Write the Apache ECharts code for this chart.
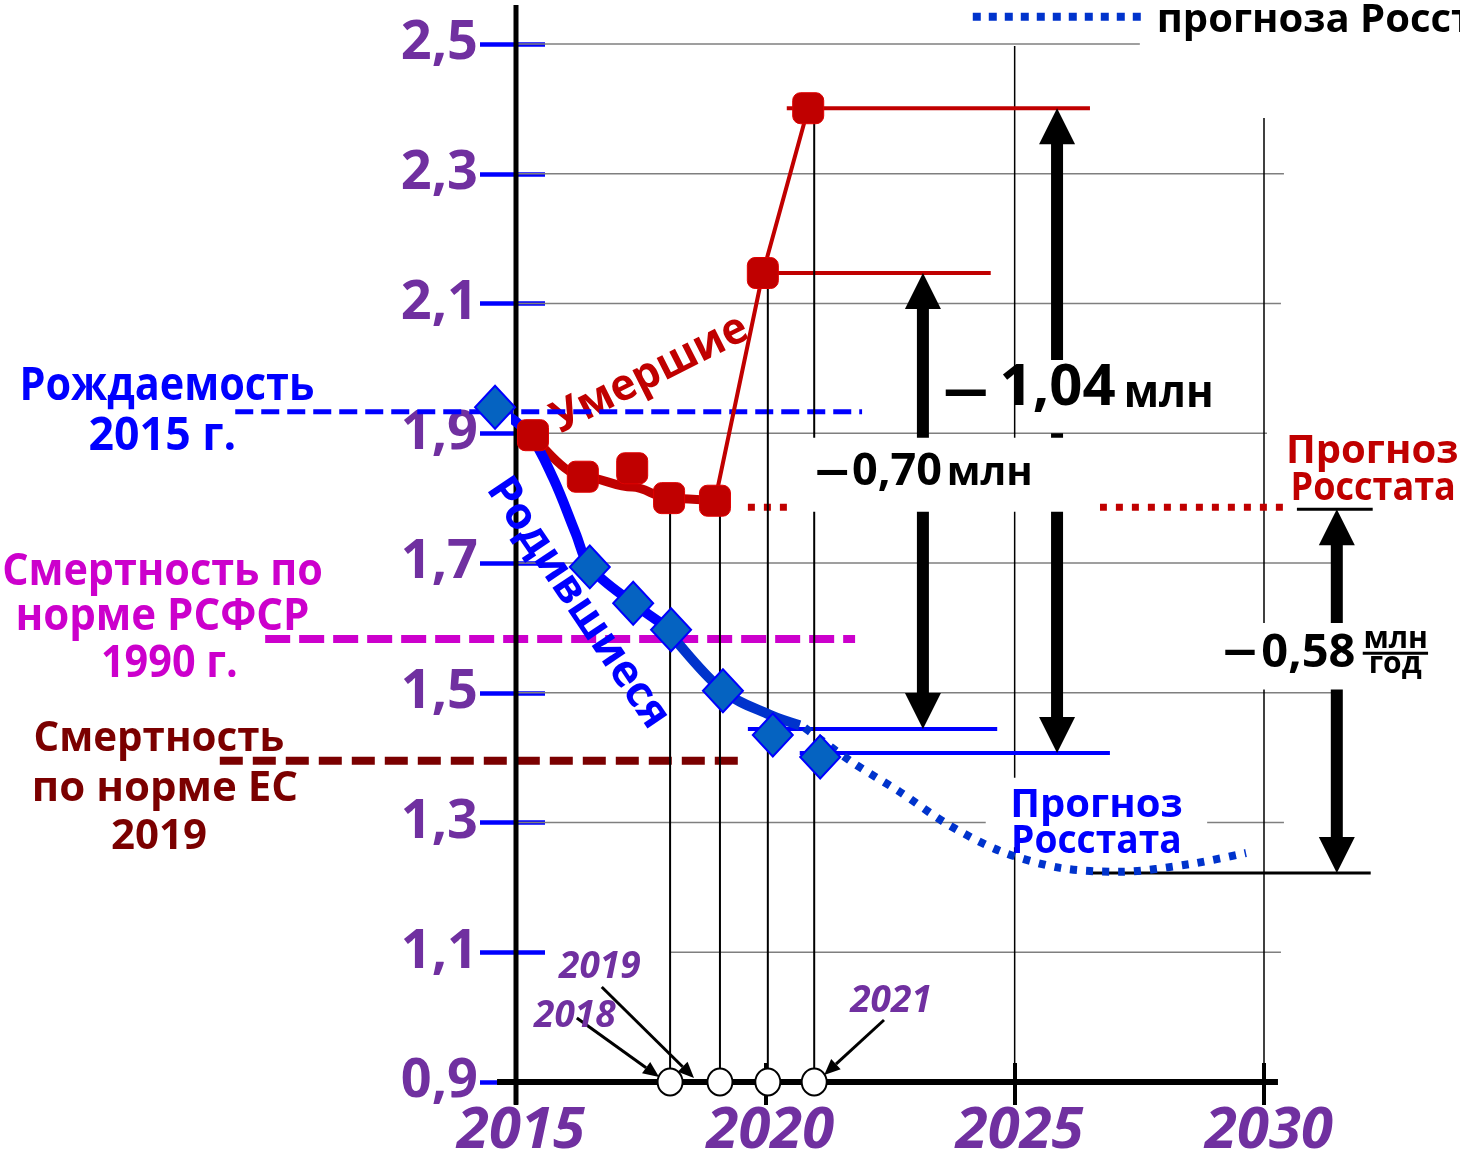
<!DOCTYPE html>
<html><head><meta charset="utf-8">
<script src="https://cdn.jsdelivr.net/npm/echarts@6/dist/echarts.min.js"></script>
<style>html,body{margin:0;padding:0;background:#fff}#c{width:1460px;height:1149px}</style>
</head><body><div id="c"></div><script>
// ---------- DATA (millions of people) ----------
const xTickLabels = ['2015', '2020', '2025', '2030'];
const yTickValues = [0.9, 1.1, 1.3, 1.5, 1.7, 1.9, 2.1, 2.3, 2.5];
const yTickLabels = ['0,9', '1,1', '1,3', '1,5', '1,7', '1,9', '2,1', '2,3', '2,5'];

// births markers
const birthYears = [2014.58, 2016.48, 2017.35, 2018.11, 2019.15, 2020.15, 2021.10];
const births = [1.940, 1.694, 1.638, 1.597, 1.503, 1.435, 1.401];
// births curve (actual), two pieces
const birthCurveYears = [2014.58, 2015.25, 2015.75, 2016.2, 2016.48, 2017.35, 2018.11];
const birthCurveValues = [1.940, 1.900, 1.830, 1.745, 1.694, 1.638, 1.597];
const birthCurve2Years = [2018.11, 2019.15, 2020.09, 2020.69];
const birthCurve2Values = [1.590, 1.503, 1.466, 1.450];
// Rosstat births forecast
const forecastBirthYears = [2020.79, 2021.76, 2022.70, 2023.64, 2024.71, 2025.91, 2027.11, 2028.52, 2029.64];
const forecastBirthValues = [1.446, 1.392, 1.347, 1.298, 1.256, 1.230, 1.224, 1.236, 1.253];

// deaths markers
const deathYears = [2015.34, 2016.34, 2017.33, 2018.07, 2018.99, 2019.95, 2020.86];
const deaths = [1.897, 1.833, 1.846, 1.800, 1.796, 2.147, 2.401];
const deathCurveYears = [2015.34, 2016.34, 2017.33, 2018.07, 2018.99];
const deathCurveValues = [1.897, 1.833, 1.817, 1.800, 1.796];
const deathJumpYears = [2018.99, 2019.95, 2020.86];
const deathJumpValues = [1.796, 2.147, 2.401];

// reference levels
const birthLevel2015 = 1.933;
const deathNormRSFSR1990 = 1.583;
const deathNormEU2019 = 1.395;
const deathForecastLevel = 1.786;
const deathLevels2020_2021 = [2.147, 2.401];
const birthLevels2020_2021 = [1.444, 1.407];
const forecastGapLevels = [1.783, 1.222];

// marked years (vertical lines to the axis and circles)
const markedYears = [2018.09, 2019.09, 2020.05, 2020.98];
const markedTops = [1.800, 1.796, 2.147, 2.401];

// differences (arrows): x, top, bottom
const diffX = [2023.16, 2025.85, 2031.46];
const diffTop = [2.147, 2.401, 1.783];
const diffBottom = [1.444, 1.407, 1.222];

// ---------- STYLE ----------
const FONT = '"Open Sans", "Noto Sans", sans-serif';
const PURPLE = '#7030a0', BLUE = '#0000ff', BLUE2 = '#0033cc', RED = '#c00000',
      MAGENTA = '#cc00cc', MAROON = '#7b0000';

const zip = (a, b) => a.map((v, i) => [v, b[i]]);

function segSeries(segs, style, z) {
  return {
    type: 'custom', coordinateSystem: 'cartesian2d', silent: true, animation: false, z: z,
    data: segs, encode: { x: [0, 2], y: [1, 3] },
    renderItem: function (p, api) {
      const a = api.coord([api.value(0), api.value(1)]);
      const b = api.coord([api.value(2), api.value(3)]);
      return { type: 'line', shape: { x1: a[0], y1: a[1], x2: b[0], y2: b[1] },
        style: Object.assign({ fill: null, lineCap: 'butt' }, style) };
    }
  };
}

function textSeries(items, z) {
  return {
    type: 'custom', coordinateSystem: 'cartesian2d', silent: true, animation: false, z: z,
    data: items.map(d => [d.x, d.y]), encode: { x: 0, y: 1 },
    renderItem: function (p, api) {
      const d = items[p.dataIndex];
      const c = api.coord([api.value(0), api.value(1)]);
      return {
        type: 'text', x: c[0], y: c[1], rotation: (d.rot || 0) * Math.PI / 180, scaleX: d.sx || 1,
        style: {
          text: d.text, fill: d.color, fontSize: d.size, fontWeight: 'bold', fontFamily: FONT,
          fontStyle: d.italic ? 'italic' : 'normal',
          align: d.align || 'center', verticalAlign: 'middle'
        }
      };
    }
  };
}

// horizontal grid (start year, value, end year, value)
const gridSegs = [
  [2015, 2.5, 2027.51, 2.5], [2015, 2.3, 2030.40, 2.3], [2015, 2.1, 2030.34, 2.1],
  [2015, 1.9, 2030.06, 1.9], [2015, 1.7, 2031.36, 1.7], [2015, 1.5, 2031.36, 1.5],
  [2015, 1.3, 2030.40, 1.3], [2018.09, 1.1, 2030.34, 1.1]
];

const underTexts = [
  { text: 'Умершие', x: 2017.69, y: 1.991, size: 44, color: RED, rot: 26.8, sx: 0.97 }
];

const textLayout = [
  { text: 'Рождаемость', x: 2008.0, y: 1.971, size: 46, color: BLUE, sx: 0.9 },
  { text: '2015 г.', x: 2007.91, y: 1.894, size: 46, color: BLUE, sx: 0.97 },
  { text: 'Смертность по', x: 2007.91, y: 1.685, size: 44, color: MAGENTA, sx: 0.94 },
  { text: 'норме РСФСР', x: 2007.91, y: 1.616, size: 44, color: MAGENTA, sx: 0.955 },
  { text: '1990 г.', x: 2008.05, y: 1.544, size: 44, color: MAGENTA, sx: 0.94 },
  { text: 'Смертность', x: 2007.84, y: 1.428, size: 42, color: MAROON, sx: 0.96 },
  { text: 'по норме ЕС', x: 2007.96, y: 1.351, size: 42, color: MAROON },
  { text: '2019', x: 2007.84, y: 1.277, size: 42, color: MAROON },
  { text: 'Родившиеся', x: 2016.24, y: 1.638, size: 44, color: BLUE, rot: -56 },
  { text: 'Прогноз', x: 2032.17, y: 1.872, size: 40, color: RED },
  { text: 'Росстата', x: 2032.19, y: 1.815, size: 40, color: RED, sx: 0.9 },
  { text: 'Прогноз', x: 2026.64, y: 1.326, size: 40, color: BLUE },
  { text: 'Росстата', x: 2026.64, y: 1.271, size: 40, color: BLUE, sx: 0.93 },
  { text: '—', x: 2024.02, y: 1.965, size: 58, color: '#000', sx: 0.75 },
  { text: '1,04', x: 2025.86, y: 1.969, size: 58, color: '#000' },
  { text: 'млн', x: 2028.09, y: 1.960, size: 44, color: '#000', sx: 0.95 },
  { text: '—', x: 2021.34, y: 1.840, size: 45, color: '#000', sx: 0.72 },
  { text: '0,70', x: 2022.64, y: 1.840, size: 45, color: '#000' },
  { text: 'млн', x: 2024.50, y: 1.838, size: 40, color: '#000' },
  { text: '—', x: 2029.52, y: 1.563, size: 47, color: '#000', sx: 0.68 },
  { text: '0,58', x: 2030.89, y: 1.560, size: 47, color: '#000' },
  { text: 'млн', x: 2032.64, y: 1.582, size: 30, color: '#000' },
  { text: 'год', x: 2032.63, y: 1.544, size: 30, color: '#000' },
  { text: '2019', x: 2016.68, y: 1.077, size: 37, color: PURPLE, italic: true },
  { text: '2018', x: 2016.18, y: 1.001, size: 37, color: PURPLE, italic: true },
  { text: '2021', x: 2022.52, y: 1.024, size: 37, color: PURPLE, italic: true },
  { text: 'прогноза Росстата', x: 2027.85, y: 2.536, size: 40, color: '#000', align: 'left' }
];

const whiteBoxes = [
  [2020.49, 1.893, 2026.71, 1.779],
  [2029.02, 1.6075, 2033.43, 1.505],
  [2024.42, 1.369, 2028.86, 1.262]
];

const pointerArrows = [
  [2016.22, 0.9987, 2017.87, 0.9077],
  [2016.72, 1.0464, 2018.57, 0.9062],
  [2022.38, 0.9956, 2021.18, 0.9108]
];

const series = [
  // grid
  segSeries(gridSegs, { stroke: '#7f7f7f', lineWidth: 1.5 }, 1),
  segSeries([[2025, 2.497, 2025, 0.9], [2030, 2.386, 2030, 0.9]], { stroke: '#000', lineWidth: 1.5 }, 1),
  textSeries(underTexts, 1),
  // reference levels
  segSeries([[2009.37, birthLevel2015, 2021.94, birthLevel2015]], { stroke: BLUE, lineWidth: 5, lineDash: [18, 8] }, 2),
  segSeries([[2009.97, deathNormRSFSR1990, 2021.80, deathNormRSFSR1990]], { stroke: MAGENTA, lineWidth: 8, lineDash: [25, 9] }, 2),
  segSeries([[2009.06, deathNormEU2019, 2019.53, deathNormEU2019]], { stroke: MAROON, lineWidth: 8, lineDash: [23, 10] }, 2),
  segSeries([[2019.65, deathForecastLevel, 2030.42, deathForecastLevel]], { stroke: RED, lineWidth: 7, lineDash: [7, 9] }, 2),
  segSeries([[2020.43, deathLevels2020_2021[1], 2026.51, deathLevels2020_2021[1]],
             [2019.95, deathLevels2020_2021[0], 2024.52, deathLevels2020_2021[0]]], { stroke: RED, lineWidth: 4 }, 2),
  segSeries([[2019.65, birthLevels2020_2021[0], 2024.65, birthLevels2020_2021[0]],
             [2020.69, birthLevels2020_2021[1], 2026.91, birthLevels2020_2021[1]]], { stroke: BLUE, lineWidth: 4 }, 2),
  segSeries([[2030.66, forecastGapLevels[0], 2032.18, forecastGapLevels[0]],
             [2026.53, forecastGapLevels[1], 2032.14, forecastGapLevels[1]]], { stroke: '#000', lineWidth: 3 }, 2),
  segSeries(markedYears.map((x, i) => [x, markedTops[i], x, 0.9]), { stroke: '#000', lineWidth: 2 }, 2),
  // legend dotted line at top
  segSeries([[2024.16, 2.542, 2027.55, 2.542]], { stroke: BLUE2, lineWidth: 8, lineDash: [8, 8] }, 2),
  // difference arrows
  {
    type: 'custom', coordinateSystem: 'cartesian2d', silent: true, animation: false, z: 2,
    data: diffX.map((x, i) => [x, diffTop[i], diffBottom[i], i === 1 ? 2.013 : 0, i === 1 ? 1.900 : 0]),
    encode: { x: 0, y: [1, 2] },
    renderItem: function (p, api) {
      const x = api.value(0);
      const t = api.coord([x, api.value(1)]), b = api.coord([x, api.value(2)]);
      const H = 36, HW = 18, SW = 6;
      const ch = [
        { type: 'polygon', shape: { points: [[t[0], t[1]], [t[0] - HW, t[1] + H], [t[0] + HW, t[1] + H]] }, style: { fill: '#000' } },
        { type: 'polygon', shape: { points: [[b[0], b[1]], [b[0] - HW, b[1] - H], [b[0] + HW, b[1] - H]] }, style: { fill: '#000' } }
      ];
      const y0 = t[1] + H - 1, y1 = b[1] - H + 1;
      const rect = (a, c) => ({ type: 'rect', shape: { x: t[0] - SW, y: a, width: 2 * SW, height: c - a }, style: { fill: '#000' } });
      const gT = api.value(3), gB = api.value(4);
      if (gT > 0) {
        const g1 = api.coord([x, gT])[1], g2 = api.coord([x, gB])[1];
        ch.push(rect(y0, g1), rect(g2, y1));
      } else ch.push(rect(y0, y1));
      return { type: 'group', children: ch };
    }
  },
  // white label boxes
  {
    type: 'custom', coordinateSystem: 'cartesian2d', silent: true, animation: false, z: 3,
    data: whiteBoxes, encode: { x: [0, 2], y: [1, 3] },
    renderItem: function (p, api) {
      const a = api.coord([api.value(0), api.value(1)]), b = api.coord([api.value(2), api.value(3)]);
      return { type: 'rect', shape: { x: a[0], y: a[1], width: b[0] - a[0], height: b[1] - a[1] }, style: { fill: '#fff' } };
    }
  },
  // fraction bar
  segSeries([[2031.98, 1.561, 2033.29, 1.561]], { stroke: '#000', lineWidth: 3 }, 4),
  // axes lines
  segSeries([[2015, 0.865, 2015, 2.56]], { stroke: '#000', lineWidth: 5 }, 4),
  segSeries([[2014.62, 0.9, 2030.28, 0.9]], { stroke: '#000', lineWidth: 6 }, 4),
  // pointer arrows to year circles
  {
    type: 'custom', coordinateSystem: 'cartesian2d', silent: true, animation: false, z: 5,
    data: pointerArrows, encode: { x: [0, 2], y: [1, 3] },
    renderItem: function (p, api) {
      const a = api.coord([api.value(0), api.value(1)]), b = api.coord([api.value(2), api.value(3)]);
      const dx = b[0] - a[0], dy = b[1] - a[1], L = Math.hypot(dx, dy), ux = dx / L, uy = dy / L;
      const HL = 16, HW = 7;
      const bx = b[0] - ux * HL, by = b[1] - uy * HL;
      return { type: 'group', children: [
        { type: 'line', shape: { x1: a[0], y1: a[1], x2: bx, y2: by }, style: { stroke: '#000', lineWidth: 3 } },
        { type: 'polygon', shape: { points: [[b[0], b[1]], [bx - uy * HW, by + ux * HW], [bx + uy * HW, by - ux * HW]] }, style: { fill: '#000' } }
      ] };
    }
  },
  // data curves
  { type: 'line', data: zip(deathCurveYears, deathCurveValues), smooth: 0.35, smoothMonotone: 'x', symbol: 'none', clip: false, silent: true, z: 5,
    lineStyle: { color: RED, width: 9 } },
  { type: 'line', data: zip(deathJumpYears, deathJumpValues), symbol: 'none', clip: false, silent: true, z: 5,
    lineStyle: { color: RED, width: 4 } },
  { type: 'line', data: zip(birthCurveYears, birthCurveValues), smooth: 0.35, symbol: 'none', clip: false, silent: true, z: 5,
    lineStyle: { color: BLUE, width: 10 } },
  { type: 'line', data: zip(birthCurve2Years, birthCurve2Values), smooth: 0.35, symbol: 'none', clip: false, silent: true, z: 5,
    lineStyle: { color: BLUE2, width: 10 } },
  { type: 'line', data: zip(forecastBirthYears, forecastBirthValues), smooth: 0.3, symbol: 'none', clip: false, silent: true, z: 5,
    lineStyle: { color: BLUE2, width: 8, type: [7, 9], cap: 'butt' } },
  // markers
  { type: 'scatter', data: zip(deathYears, deaths), symbol: 'roundRect', symbolSize: 31, clip: false, silent: true, z: 6,
    itemStyle: { color: RED, borderColor: '#e00000', borderWidth: 1, opacity: 1 } },
  { type: 'scatter', data: zip(birthYears, births), symbol: 'diamond', symbolSize: [40, 43], clip: false, silent: true, z: 6,
    itemStyle: { color: '#0563c1', borderColor: BLUE, borderWidth: 2, opacity: 1 } },
  { type: 'scatter', data: markedYears.map(x => [x, 0.9]), symbol: 'circle', symbolSize: [25, 27], clip: false, silent: true, z: 7,
    itemStyle: { color: '#fff', borderColor: '#000', borderWidth: 2, opacity: 1 } },
  // texts
  textSeries(textLayout, 8)
];

const chart = echarts.init(document.getElementById('c'));
chart.setOption({
  backgroundColor: '#fff',
  animation: false,
  grid: { left: 516, right: 196, top: 44, bottom: 67, containLabel: false, outerBoundsMode: 'none' },
  xAxis: [
    { type: 'value', min: 2015, max: 2030, interval: 5,
      axisLine: { show: false }, splitLine: { show: false },
      axisTick: { show: true, length: 23, lineStyle: { color: '#000', width: 4 } },
      axisLabel: { margin: 16, padding: [4, 0, 0, 10], fontSize: 58, fontWeight: 'bold', fontStyle: 'italic', fontFamily: FONT, color: PURPLE,
        formatter: v => xTickLabels[Math.round((v - 2015) / 5)] || '' } },
    { type: 'value', min: 2015, max: 2030, interval: 5, position: 'bottom',
      axisLine: { show: false }, splitLine: { show: false }, axisLabel: { show: false },
      axisTick: { show: true, inside: true, length: 19, lineStyle: { color: '#000', width: 4 } } }
  ],
  yAxis: [
    { type: 'value', min: 0.9, max: 2.5, interval: 0.2,
      axisLine: { show: false }, splitLine: { show: false },
      axisTick: { show: true, length: 36, customValues: yTickValues, lineStyle: { color: BLUE, width: 4.5 } },
      axisLabel: { margin: 38, fontSize: 54, fontWeight: 'bold', fontFamily: FONT, color: PURPLE, customValues: yTickValues,
        formatter: v => { const i = yTickValues.findIndex(t => Math.abs(t - v) < 1e-6); return i >= 0 ? yTickLabels[i] : ''; } } },
    { type: 'value', min: 0.9, max: 2.5, interval: 0.2, position: 'left',
      axisLine: { show: false }, splitLine: { show: false }, axisLabel: { show: false },
      axisTick: { show: true, inside: true, length: 29, customValues: yTickValues, lineStyle: { color: BLUE, width: 4.5 } } }
  ],
  series: series
});
</script></body></html>
